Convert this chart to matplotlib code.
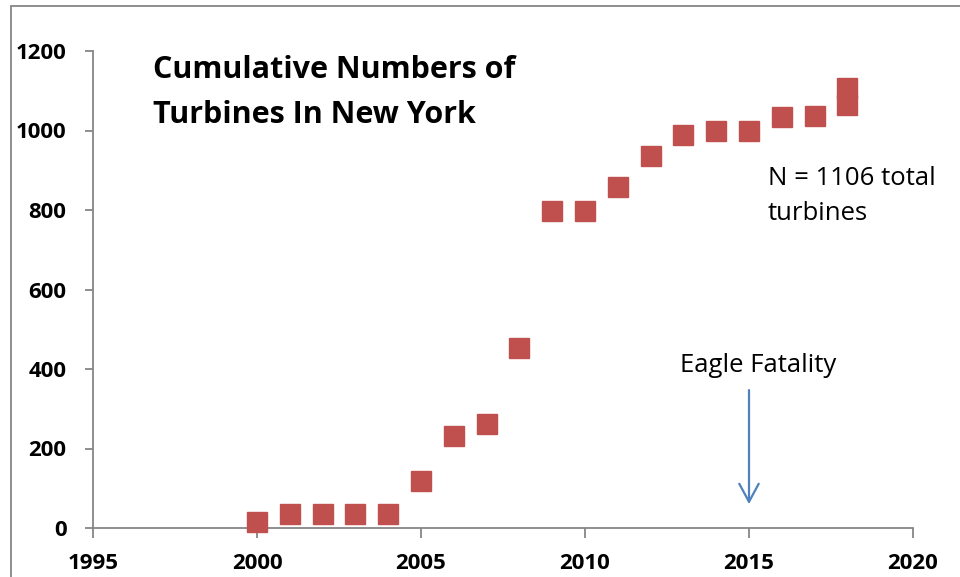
import matplotlib
matplotlib.use("Agg")
import matplotlib.pyplot as plt
from matplotlib.patches import Rectangle

years = [2000, 2001, 2002, 2003, 2004, 2005, 2006, 2007, 2008, 2009,
         2010, 2011, 2012, 2013, 2014, 2015, 2016, 2017, 2018, 2018]
turbines = [15, 35, 35, 35, 35, 118, 231, 262, 453, 797,
            797, 858, 936, 989, 998, 998, 1034, 1036, 1065, 1106]
x_ticks = [1995, 2000, 2005, 2010, 2015, 2020]
y_ticks = [0, 200, 400, 600, 800, 1000, 1200]
title_lines = ['Cumulative Numbers of', 'Turbines In New York']
note_lines = ['N = 1106 total', 'turbines']

plt.rcParams['font.family'] = ['Open Sans', 'DejaVu Sans']

W, H = 960, 577
fig = plt.figure(figsize=(W / 100, H / 100), dpi=100)
ax = fig.add_axes([93 / W, 1 - 528 / H, (913 - 93) / W, (528 - 51) / H])

ax.plot(years, turbines, linestyle='none', marker='s', markersize=14.5,
        color='#C0504D', markeredgecolor='#C0504D', clip_on=False, zorder=3)

ax.set_xlim(1995, 2020)
ax.set_ylim(0, 1200)
ax.set_xticks(x_ticks)
ax.set_yticks(y_ticks)
ax.set_xticklabels([str(v) for v in x_ticks])
ax.set_yticklabels([str(v) for v in y_ticks])

for s in ['top', 'right']:
    ax.spines[s].set_visible(False)
for s in ['left', 'bottom']:
    ax.spines[s].set_color('#868686')
    ax.spines[s].set_linewidth(1.3)
ax.tick_params(axis='x', direction='out', length=7, width=1.3, color='#868686',
               labelsize=16, pad=11)
ax.tick_params(axis='y', direction='out', length=6, width=1.3, color='#868686',
               labelsize=16, pad=13)
for lab in ax.get_xticklabels() + ax.get_yticklabels():
    lab.set_fontweight('bold')

for txt, yv in zip(title_lines, [1132, 1019]):
    ax.text(1996.83, yv, txt, fontsize=22, fontweight='bold',
            va='baseline', ha='left')
for txt, yv in zip(note_lines, [863, 775]):
    ax.text(2015.58, yv, txt, fontsize=18.5, va='baseline', ha='left')
ax.text(2015.29, 393, 'Eagle Fatality', fontsize=18.5, va='baseline', ha='center')
ax.annotate('', xy=(2015, 60), xytext=(2015, 347),
            arrowprops=dict(arrowstyle='->,head_length=1.3,head_width=0.7',
                            color='#4F81BD', lw=1.6, shrinkA=0, shrinkB=0))

fig.patches.append(Rectangle((11 / W, -0.1), 1.2, 1 - 6 / H + 0.1,
                             transform=fig.transFigure, fill=False,
                             edgecolor='#868686', linewidth=1.3))

fig.savefig('out.png', dpi=100)
